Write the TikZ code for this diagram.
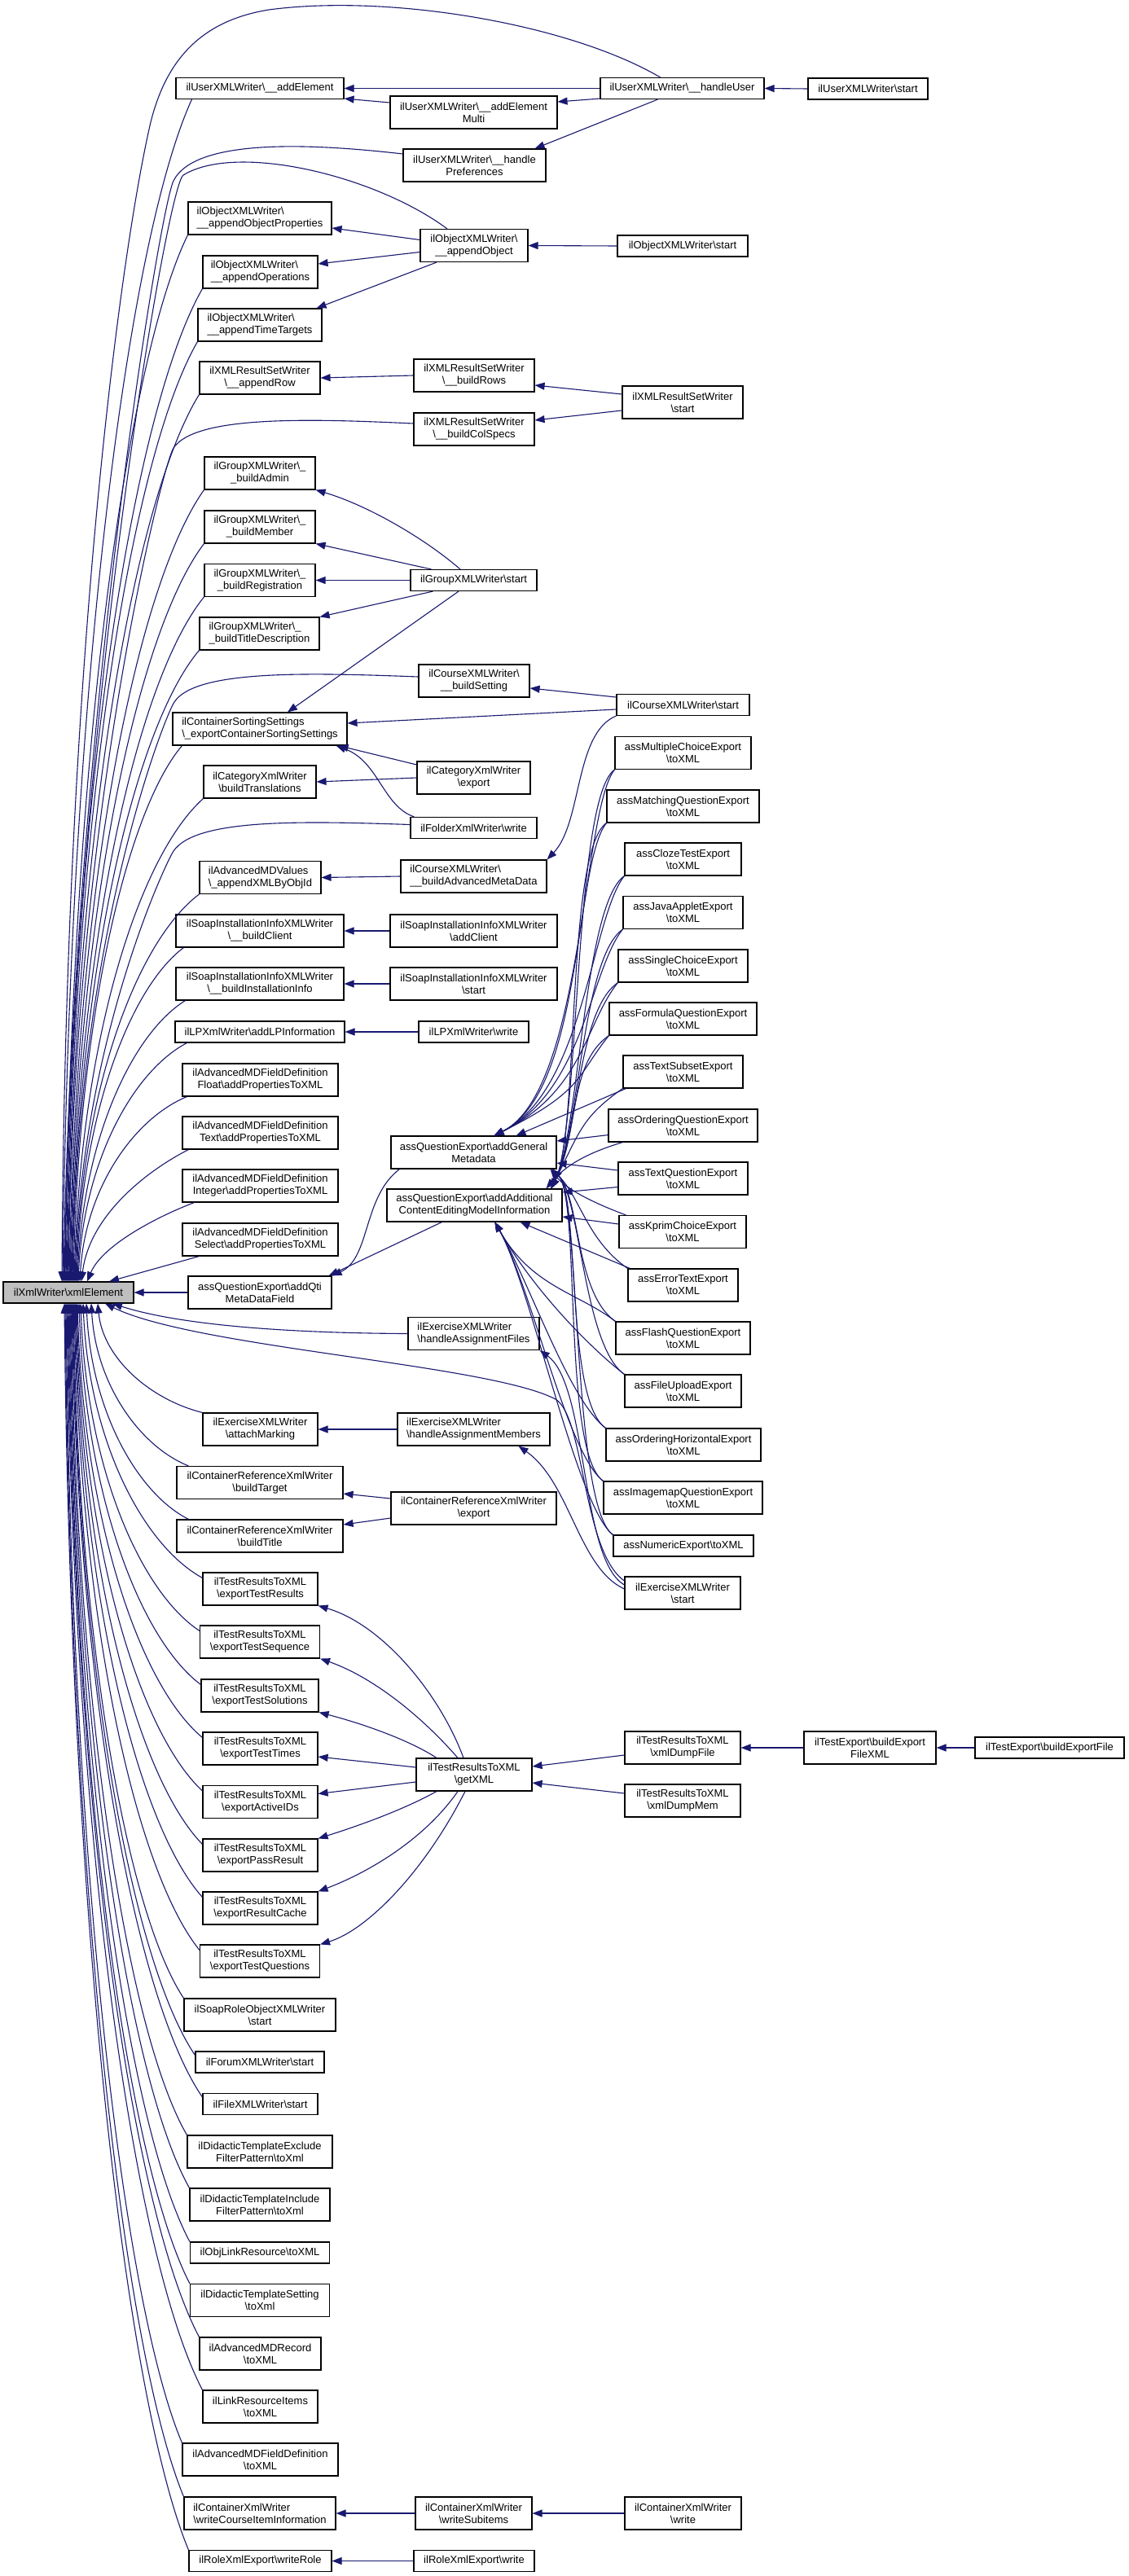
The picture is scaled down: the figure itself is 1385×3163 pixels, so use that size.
\documentclass[tikz,border=0pt]{standalone}
\usepackage{fontspec}
\setmainfont{Liberation Sans}
\usetikzlibrary{arrows.meta,calc}
\definecolor{eblue}{HTML}{191970}
\definecolor{rootgrey}{HTML}{BFBFBF}
\newcommand\bs{\textbackslash}
\newcommand\bx[6]{\node[box,minimum width=#4pt,#5] (#1) at (#2,#3) {#6};}
\newcommand\fanE[2]{\draw[lnk] let \p1=(#1), \p2=(#2) in (\p1) .. controls ({\x1-0.5*(\x1-\x2)},{\y1-0.12*(\y1-\y2)}) and ({\x2+0.05*(\x1-\x2)},{\y2+0.5*(\y1-\y2)}) .. (\p2);}
\newcommand\aUG[1]{\draw[lnk] (#1.south west) .. controls +(-40,50) and +(110,-55) .. ([xshift=25pt]n44.north);}
\newcommand\aUA[1]{\draw[lnk] (#1.south west) .. controls +(-50,35) and +(35,-70) .. ([xshift=-14pt]n47.north east);}
\newcommand\aDA[1]{\draw[lnk] (#1.north west) .. controls +(-45,-35) and +(45,80) .. ([xshift=25pt]n47.south);}
\newcommand\aDG[1]{\draw[lnk] (#1.north west) .. controls +(-50,-35) and +(35,35) .. ([xshift=-6pt]n44.south east);}
\begin{document}
\begin{tikzpicture}[x=1pt,y=-1pt,
 box/.style={draw=black,line width=1.1pt,fill=white,inner sep=0pt,minimum height=26pt,align=center,font=\fontsize{13}{15}\selectfont},
 two/.style={minimum height=40pt},
 lft/.style={align=left},
 lnk/.style={draw=eblue,line width=1.1pt,-{Triangle[length=12pt,width=9pt]}}]
\useasboundingbox (0,0) rectangle (1385,3163);
\fill[white] (0,0) rectangle (1385,3163);
% nodes
\bx{R}{84}{1587}{160}{fill=rootgrey}{ilXmlWriter\bs xmlElement}
\bx{n1}{319}{108.5}{206}{}{ilUserXMLWriter\bs\_\_addElement}
\bx{n2}{581.5}{138}{205}{two}{ilUserXMLWriter\bs\_\_addElement\\Multi}
\bx{n3}{837.5}{108.5}{201}{}{ilUserXMLWriter\bs\_\_handleUser}
\bx{n4}{1065.5}{109}{147}{}{ilUserXMLWriter\bs start}
\bx{n5}{582.5}{203}{175}{two}{ilUserXMLWriter\bs\_\_handle\\Preferences}
\bx{n6}{319}{268}{176}{two,lft}{ilObjectXMLWriter\bs\\\_\_appendObjectProperties}
\bx{n7}{582}{301.5}{132}{two}{ilObjectXMLWriter\bs\\\_\_appendObject}
\bx{n8}{838}{302}{160}{}{ilObjectXMLWriter\bs start}
\bx{n9}{319.5}{334}{141}{two,lft}{ilObjectXMLWriter\bs\\\_\_appendOperations}
\bx{n10}{319}{399}{152}{two,lft}{ilObjectXMLWriter\bs\\\_\_appendTimeTargets}
\bx{n11}{319}{464}{148}{two}{ilXMLResultSetWriter\\\bs\_\_appendRow}
\bx{n12}{582}{461}{148}{two}{ilXMLResultSetWriter\\\bs\_\_buildRows}
\bx{n13}{838}{494}{148}{two}{ilXMLResultSetWriter\\\bs start}
\bx{n14}{582}{527}{148}{two}{ilXMLResultSetWriter\\\bs\_\_buildColSpecs}
\bx{n15}{319}{581}{136}{two}{ilGroupXMLWriter\bs\_\\\_buildAdmin}
\bx{n16}{319}{647}{136}{two}{ilGroupXMLWriter\bs\_\\\_buildMember}
\bx{n17}{319}{712.5}{136}{two}{ilGroupXMLWriter\bs\_\\\_buildRegistration}
\bx{n18}{318.5}{778}{147}{two,lft}{ilGroupXMLWriter\bs\_\\\_buildTitleDescription}
\bx{n19}{581.5}{712.5}{155}{}{ilGroupXMLWriter\bs start}
\bx{n20}{582}{836}{136}{two}{ilCourseXMLWriter\bs\\\_\_buildSetting}
\bx{n21}{838.5}{865.5}{163}{}{ilCourseXMLWriter\bs start}
\bx{n22}{319}{895}{214}{two,lft}{ilContainerSortingSettings\\\bs\_exportContainerSortingSettings}
\bx{n23}{838.5}{924.5}{167}{two}{assMultipleChoiceExport\\\bs toXML}
\bx{n24}{319}{960}{138}{two}{ilCategoryXmlWriter\\\bs buildTranslations}
\bx{n25}{581.5}{955}{139}{two}{ilCategoryXmlWriter\\\bs export}
\bx{n26}{838.5}{990}{187}{two}{assMatchingQuestionExport\\\bs toXML}
\bx{n27}{581.5}{1016.5}{155}{}{ilFolderXmlWriter\bs write}
\bx{n28}{838.5}{1055}{143}{two}{assClozeTestExport\\\bs toXML}
\bx{n29}{319.5}{1077.5}{149}{two,lft}{ilAdvancedMDValues\\\bs\_appendXMLByObjId}
\bx{n30}{581.5}{1076}{179}{two,lft}{ilCourseXMLWriter\bs\\\_\_buildAdvancedMetaData}
\bx{n31}{838.5}{1120.5}{147}{two}{assJavaAppletExport\\\bs toXML}
\bx{n32}{319}{1143}{206}{two}{ilSoapInstallationInfoXMLWriter\\\bs\_\_buildClient}
\bx{n33}{581.5}{1143}{205}{two}{ilSoapInstallationInfoXMLWriter\\\bs addClient}
\bx{n34}{838.5}{1186}{159}{two}{assSingleChoiceExport\\\bs toXML}
\bx{n35}{319}{1208}{206}{two}{ilSoapInstallationInfoXMLWriter\\\bs\_\_buildInstallationInfo}
\bx{n36}{581.5}{1208}{205}{two}{ilSoapInstallationInfoXMLWriter\\\bs start}
\bx{n37}{838.5}{1251}{181}{two}{assFormulaQuestionExport\\\bs toXML}
\bx{n38}{319}{1267}{208}{}{ilLPXmlWriter\bs addLPInformation}
\bx{n39}{581.5}{1267}{135}{}{ilLPXmlWriter\bs write}
\bx{n40}{838.5}{1316}{147}{two}{assTextSubsetExport\\\bs toXML}
\bx{n41}{319.5}{1326}{191}{two}{ilAdvancedMDFieldDefinition\\Float\bs addPropertiesToXML}
\bx{n42}{838.5}{1382}{183}{two}{assOrderingQuestionExport\\\bs toXML}
\bx{n43}{319.5}{1391}{191}{two}{ilAdvancedMDFieldDefinition\\Text\bs addPropertiesToXML}
\bx{n44}{581.5}{1415}{203}{two}{assQuestionExport\bs addGeneral\\Metadata}
\bx{n45}{838.5}{1447}{159}{two}{assTextQuestionExport\\\bs toXML}
\bx{n46}{319.5}{1456}{191}{two}{ilAdvancedMDFieldDefinition\\Integer\bs addPropertiesToXML}
\bx{n47}{582.5}{1480}{215}{two}{assQuestionExport\bs addAdditional\\ContentEditingModelInformation}
\bx{n48}{838}{1512.5}{156}{two}{assKprimChoiceExport\\\bs toXML}
\bx{n49}{319.5}{1522}{191}{two}{ilAdvancedMDFieldDefinition\\Select\bs addPropertiesToXML}
\bx{n50}{838.5}{1578}{135}{two}{assErrorTextExport\\\bs toXML}
\bx{n51}{319}{1587}{176}{two}{assQuestionExport\bs addQti\\MetaDataField}
\bx{n52}{581.5}{1637.5}{161}{two,lft}{ilExerciseXMLWriter\\\bs handleAssignmentFiles}
\bx{n53}{838.5}{1643}{165}{two}{assFlashQuestionExport\\\bs toXML}
\bx{n54}{838.5}{1708}{143}{two}{assFileUploadExport\\\bs toXML}
\bx{n55}{319.5}{1755}{141}{two}{ilExerciseXMLWriter\\\bs attachMarking}
\bx{n56}{581.5}{1755}{187}{two,lft}{ilExerciseXMLWriter\\\bs handleAssignmentMembers}
\bx{n57}{839}{1774}{190}{two}{assOrderingHorizontalExport\\\bs toXML}
\bx{n58}{319}{1820.5}{204}{two}{ilContainerReferenceXmlWriter\\\bs buildTarget}
\bx{n59}{838.5}{1839}{195}{two}{assImagemapQuestionExport\\\bs toXML}
\bx{n60}{581.5}{1852}{203}{two}{ilContainerReferenceXmlWriter\\\bs export}
\bx{n61}{319}{1886}{204}{two}{ilContainerReferenceXmlWriter\\\bs buildTitle}
\bx{n62}{839}{1898}{172}{}{assNumericExport\bs toXML}
\bx{n63}{319.5}{1951}{141}{two}{ilTestResultsToXML\\\bs exportTestResults}
\bx{n64}{838}{1956}{142}{two}{ilExerciseXMLWriter\\\bs start}
\bx{n65}{319}{2016}{147}{two}{ilTestResultsToXML\\\bs exportTestSequence}
\bx{n66}{319}{2082}{144}{two}{ilTestResultsToXML\\\bs exportTestSolutions}
\bx{n67}{319.5}{2147}{141}{two}{ilTestResultsToXML\\\bs exportTestTimes}
\bx{n68}{582}{2179}{142}{two}{ilTestResultsToXML\\\bs getXML}
\bx{n69}{838}{2146}{142}{two}{ilTestResultsToXML\\\bs xmlDumpFile}
\bx{n70}{1068}{2146}{162}{two}{ilTestExport\bs buildExport\\FileXML}
\bx{n71}{1288.5}{2146}{183}{}{ilTestExport\bs buildExportFile}
\bx{n72}{838}{2211}{142}{two}{ilTestResultsToXML\\\bs xmlDumpMem}
\bx{n73}{319.5}{2212.5}{141}{two}{ilTestResultsToXML\\\bs exportActiveIDs}
\bx{n74}{319.5}{2278}{141}{two}{ilTestResultsToXML\\\bs exportPassResult}
\bx{n75}{319.5}{2343}{141}{two}{ilTestResultsToXML\\\bs exportResultCache}
\bx{n76}{319}{2408}{147}{two}{ilTestResultsToXML\\\bs exportTestQuestions}
\bx{n77}{319}{2474}{186}{two}{ilSoapRoleObjectXMLWriter\\\bs start}
\bx{n78}{319}{2532}{158}{}{ilForumXMLWriter\bs start}
\bx{n79}{319.5}{2583.5}{141}{}{ilFileXMLWriter\bs start}
\bx{n80}{319}{2642}{178}{two}{ilDidacticTemplateExclude\\FilterPattern\bs toXml}
\bx{n81}{319}{2707}{172}{two}{ilDidacticTemplateInclude\\FilterPattern\bs toXml}
\bx{n82}{319}{2766}{171}{}{ilObjLinkResource\bs toXML}
\bx{n83}{319}{2824.5}{171}{two}{ilDidacticTemplateSetting\\\bs toXml}
\bx{n84}{319.5}{2890}{149}{two}{ilAdvancedMDRecord\\\bs toXML}
\bx{n85}{319.5}{2955}{141}{two}{ilLinkResourceItems\\\bs toXML}
\bx{n86}{319.5}{3020}{191}{two}{ilAdvancedMDFieldDefinition\\\bs toXML}
\bx{n87}{319}{3086}{186}{two,lft}{ilContainerXmlWriter\\\bs writeCourseItemInformation}
\bx{n88}{581.5}{3086}{143}{two}{ilContainerXmlWriter\\\bs writeSubitems}
\bx{n89}{838.5}{3086}{143}{two}{ilContainerXmlWriter\\\bs write}
\bx{n90}{319.5}{3144.5}{175}{}{ilRoleXmlExport\bs writeRole}
\bx{n91}{582}{3144.5}{148}{}{ilRoleXmlExport\bs write}
% ---- edges into root from above
\draw[lnk] ([xshift=-27pt]n3.north) .. controls (700,30) and (480,-8) .. (330,12) .. controls (250,25) and (205,70) .. (185,150) .. controls (150,300) and (80,800) .. ([xshift=-8pt]R.north);
\fanE{[xshift=20pt]n1.south west}{[xshift=-7pt]R.north}
\draw[lnk] ([yshift=14pt]n5.west) .. controls (390,177) and (240,168) .. (213,222) .. controls (196,256) and (90,900) .. ([xshift=-6pt]R.north);
\draw[lnk] ([xshift=-33pt]n7.north) .. controls (460,215) and (290,175) .. (225,215) .. controls (205,228) and (90,900) .. ([xshift=-5pt]R.north);
\fanE{n6.south west}{[xshift=-4pt]R.north}
\fanE{n9.south west}{[xshift=-3pt]R.north}
\fanE{n10.south west}{[xshift=-2pt]R.north}
\fanE{n11.south west}{[xshift=-1pt]R.north}
\draw[lnk] ([yshift=7pt]n14.west) .. controls (380,514) and (240,510) .. (213,550) .. controls (200,570) and (90,1000) .. (R.north);
\fanE{n15.south west}{[xshift=1pt]R.north}
\fanE{n16.south west}{[xshift=2pt]R.north}
\fanE{n17.south west}{[xshift=3pt]R.north}
\fanE{n18.south west}{[xshift=4pt]R.north}
\draw[lnk] ([yshift=5pt]n20.west) .. controls (380,826) and (240,822) .. (214,862) .. controls (202,880) and (95,1150) .. ([xshift=5pt]R.north);
\fanE{[xshift=12pt]n22.south west}{[xshift=6pt]R.north}
\fanE{n24.south west}{[xshift=7pt]R.north}
\draw[lnk] ([yshift=4pt]n27.west) .. controls (370,1008) and (240,1005) .. (213,1045) .. controls (203,1060) and (100,1280) .. ([xshift=8pt]R.north);
\fanE{n29.south west}{[xshift=9pt]R.north}
\fanE{[xshift=10pt]n32.south west}{[xshift=10pt]R.north}
\fanE{[xshift=12pt]n35.south west}{[xshift=11pt]R.north}
\fanE{[xshift=15pt]n38.south west}{[xshift=12pt]R.north}
\fanE{[xshift=6pt]n41.south west}{[xshift=14pt]R.north}
\draw[lnk] ([xshift=8pt]n43.south west) .. controls (185,1435) and (110,1490) .. ([xshift=16pt]R.north);
\draw[lnk] ([xshift=15pt]n46.south west) .. controls (190,1495) and (125,1530) .. ([xshift=23pt]R.north);
\draw[lnk] ([xshift=21pt]n49.south west) -- ([xshift=50pt]R.north);
\draw[lnk] (n51.west) -- (R.east);
% ---- edges into root from below
\draw[lnk] (n52.west) .. controls (380,1637) and (230,1630) .. ([xshift=54pt]R.south);
\draw[lnk] ([yshift=15pt]n64.west) .. controls (715,1905) and (718,1740) .. (682,1718) .. controls (600,1675) and (240,1655) .. ([xshift=45pt]R.south);
\fanE{n55.north west}{[xshift=36pt]R.south}
\fanE{[xshift=15pt]n58.north west}{[xshift=28pt]R.south}
\fanE{[xshift=15pt]n61.north west}{[xshift=22pt]R.south}
\fanE{[yshift=-7pt]n63.north west}{[xshift=18pt]R.south}
\fanE{[yshift=-7pt]n65.north west}{[xshift=15pt]R.south}
\fanE{[yshift=-7pt]n66.north west}{[xshift=13pt]R.south}
\fanE{[yshift=-7pt]n67.north west}{[xshift=11pt]R.south}
\fanE{[yshift=-7pt]n73.north west}{[xshift=10pt]R.south}
\fanE{[yshift=-7pt]n74.north west}{[xshift=9pt]R.south}
\fanE{[yshift=-7pt]n75.north west}{[xshift=8pt]R.south}
\fanE{[yshift=-7pt]n76.north west}{[xshift=7pt]R.south}
\fanE{n77.north west}{[xshift=6pt]R.south}
\fanE{[yshift=-5pt]n78.north west}{[xshift=5pt]R.south}
\fanE{[yshift=-5pt]n79.north west}{[xshift=4pt]R.south}
\fanE{n80.north west}{[xshift=3pt]R.south}
\fanE{n81.north west}{[xshift=2pt]R.south}
\fanE{n82.north west}{[xshift=1pt]R.south}
\fanE{n83.north west}{R.south}
\fanE{n84.north west}{[xshift=-1pt]R.south}
\fanE{n85.north west}{[xshift=-2pt]R.south}
\fanE{n86.north west}{[xshift=-3pt]R.south}
\fanE{n87.north west}{[xshift=-4pt]R.south}
\fanE{n90.north west}{[xshift=-5pt]R.south}
% ---- other edges
\draw[lnk] (n4.west) -- (n3.east);
\draw[lnk] (n3.west) -- (n1.east);
\draw[lnk] ([yshift=1pt]n3.south west) -- ([yshift=13pt]n2.east);
\draw[lnk] ([yshift=12pt]n2.west) -- ([yshift=1pt]n1.south east);
\draw[lnk] ([xshift=-30pt]n3.south) -- ([xshift=-14pt]n5.north east);
\draw[lnk] (n8.west) -- (n7.east);
\draw[lnk] ([yshift=7pt]n7.west) -- ([yshift=-12pt]n6.east);
\draw[lnk] ([yshift=-8pt]n7.west) -- ([yshift=10pt]n9.east);
\draw[lnk] ([xshift=-46pt]n7.south) -- ([xshift=-7pt]n10.north east);
\draw[lnk] (n12.west) -- (n11.east);
\draw[lnk] ([yshift=10pt]n13.west) -- ([yshift=-12pt]n12.east);
\draw[lnk] ([yshift=-10pt]n13.west) -- ([yshift=11pt]n14.east);
\draw[lnk] ([xshift=-16.5pt]n19.north) .. controls (520,660) and (450,620) .. (n15.south east);
\draw[lnk] ([xshift=-52pt]n19.north) -- (n16.south east);
\draw[lnk] (n19.west) -- (n17.east);
\draw[lnk] ([xshift=-50pt]n19.south) -- (n18.north east);
\draw[lnk] ([xshift=-18.5pt]n19.south) -- ([xshift=34pt]n22.north);
\draw[lnk] ([yshift=9.5pt]n21.west) -- ([yshift=-9pt]n20.east);
\draw[lnk] ([yshift=-5.5pt]n21.west) -- ([yshift=7pt]n22.east);
\draw[lnk] (n21.south west) .. controls (705,900) and (715,1010) .. (n30.north east);
\draw[lnk] ([yshift=16pt]n25.west) -- ([xshift=-11pt]n22.south east);
\draw[lnk] (n25.west) -- (n24.east);
\draw[lnk] ([xshift=5pt]n27.north west) .. controls (470,990) and (465,935) .. ([xshift=-14pt]n22.south east);
\draw[lnk] (n30.west) -- (n29.east);
\draw[lnk] (n33.west) -- (n32.east);
\draw[lnk] (n36.west) -- (n35.east);
\draw[lnk] (n39.west) -- (n38.east);
\draw[lnk] ([xshift=11pt]n44.south west) .. controls (445,1470) and (455,1545) .. (n51.north east);
\draw[lnk] ([xshift=-40pt]n47.south) -- ([xshift=-4pt]n51.north east);
% ass exports
\aUG{n23}\aUA{n23}
\aUG{n26}\aUA{n26}
\aUG{n28}\aUA{n28}
\aUG{n31}\aUA{n31}
\aUG{n34}\aUA{n34}
\aUG{n37}\aUA{n37}
\draw[lnk] ([xshift=4pt]n40.south west) -- ([xshift=52pt]n44.north);
\aUA{n40}
\draw[lnk] ([yshift=-11.6pt]n42.west) -- ([yshift=14pt]n44.east);
\draw[lnk] ([xshift=18pt]n42.south west) .. controls +(-40,12) and +(25,-30) .. ([xshift=-20pt]n47.north east);
\draw[lnk] ([yshift=10pt]n45.west) -- ([yshift=-13pt]n44.east);
\draw[lnk] ([yshift=-10.5pt]n45.west) -- ([yshift=16pt]n47.east);
\draw[lnk] ([yshift=9.5pt]n48.west) -- ([yshift=-14pt]n47.east);
\draw[lnk] ([xshift=9pt]n48.north west) .. controls +(-40,-15) and +(20,25) .. ([xshift=-8pt]n44.south east);
\draw[lnk] ([xshift=3pt]n50.north west) -- ([xshift=56pt]n47.south);
\aDG{n50}
\aDA{n53}\aDG{n53}
\aDA{n54}\aDG{n54}
\aDA{n57}\aDG{n57}
\aDA{n59}\aDG{n59}
\aDA{n62}\aDG{n62}
% exercise
\draw[lnk] ([yshift=10pt]n64.west) .. controls (712,1915) and (722,1700) .. (n52.south east);
\draw[lnk] ([yshift=5pt]n64.west) .. controls (710,1925) and (700,1820) .. ([xshift=55pt]n56.south);
\draw[lnk] (n56.west) -- (n55.east);
\draw[lnk] ([yshift=12pt]n60.west) -- ([yshift=-13.5pt]n58.east);
\draw[lnk] ([yshift=-12pt]n60.west) -- ([yshift=14pt]n61.east);
% test results
\draw[lnk] ([xshift=-13pt]n68.north) .. controls (540,2080) and (470,1995) .. (n63.south east);
\draw[lnk] ([xshift=-20pt]n68.north) .. controls (520,2110) and (460,2060) .. (n65.south east);
\draw[lnk] ([xshift=-46pt]n68.north) .. controls (500,2135) and (440,2115) .. (n66.south east);
\draw[lnk] ([yshift=9pt]n68.west) -- ([yshift=-10pt]n67.east);
\draw[lnk] ([yshift=-9pt]n68.west) -- ([yshift=10pt]n73.east);
\draw[lnk] ([xshift=-46pt]n68.south) .. controls (490,2225) and (430,2245) .. (n74.north east);
\draw[lnk] ([xshift=-20pt]n68.south) .. controls (520,2260) and (450,2300) .. (n75.north east);
\draw[lnk] ([xshift=-11pt]n68.south) .. controls (520,2300) and (450,2370) .. (n76.north east);
\draw[lnk] ([yshift=-9pt]n69.west) -- ([yshift=10pt]n68.east);
\draw[lnk] ([yshift=9pt]n72.west) -- ([yshift=-10pt]n68.east);
\draw[lnk] (n70.west) -- (n69.east);
\draw[lnk] (n71.west) -- (n70.east);
\draw[lnk] (n88.west) -- (n87.east);
\draw[lnk] (n89.west) -- (n88.east);
\draw[lnk] (n91.west) -- (n90.east);
\end{tikzpicture}
\end{document}
